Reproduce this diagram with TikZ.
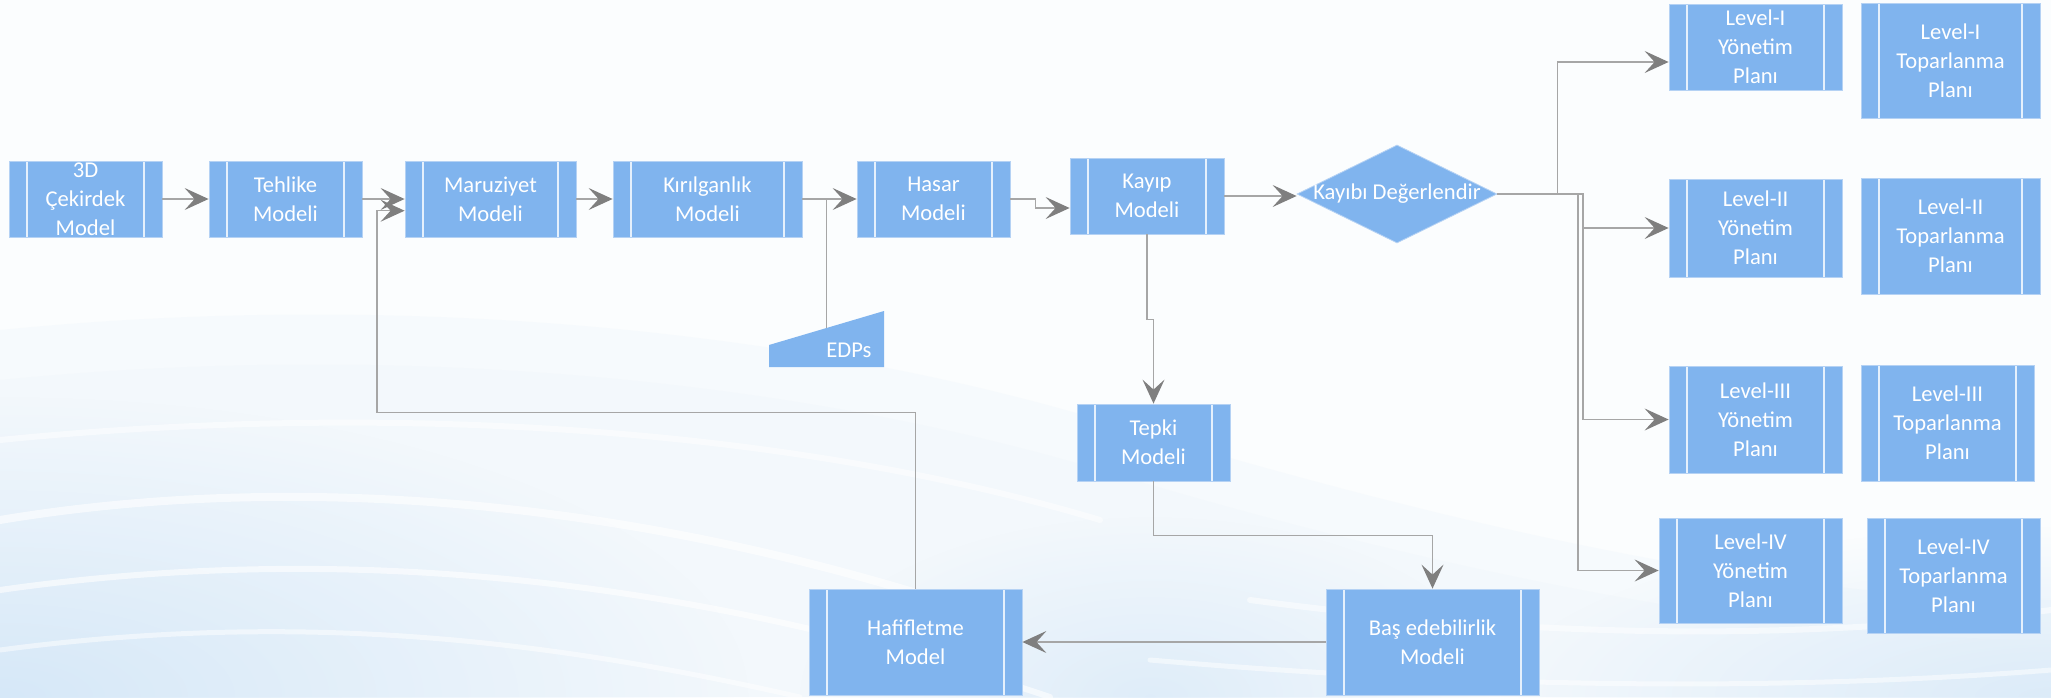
\documentclass[tikz,border=0pt]{standalone}
\usepackage{fontspec}
\setmainfont{Carlito}
\usetikzlibrary{arrows.meta,shapes.geometric,calc,fadings}
\definecolor{boxblue}{HTML}{80B4EE}
\definecolor{boxedge}{HTML}{B5D2F4}
\definecolor{connline}{HTML}{A6A6A6}
\definecolor{arrowgray}{HTML}{7F7F7F}
\definecolor{bgbase}{HTML}{FBFDFE}
\definecolor{bgA}{HTML}{EEF5FC}
\definecolor{bgB}{HTML}{D6E8F8}
\tikzfading[name=softblob, inner color=transparent!0, outer color=transparent!100]
\begin{document}
\begin{tikzpicture}[x=0.5pt,y=-0.5pt,
  font=\fontsize{11.3}{14.5}\selectfont,
  proc/.style 2 args={rectangle, fill=boxblue, draw=boxedge, line width=0.4pt,
    minimum width=#1, minimum height=#2, inner sep=0pt, text=white, align=center,
    path picture={\draw[white!80!boxblue, line width=0.7pt]
      ([xshift=9pt]path picture bounding box.north west) -- ([xshift=9pt]path picture bounding box.south west)
      ([xshift=-9pt]path picture bounding box.north east) -- ([xshift=-9pt]path picture bounding box.south east);}},
  conn/.style={draw=connline, line width=0.65pt},
  arr/.style={conn, -{Stealth[length=12pt,width=11pt,inset=5pt,color=arrowgray]}},
  txt/.style={text=white, align=center},
  streak/.style={white, line cap=round}
]
\useasboundingbox (0,0) rectangle (2051,697);
% background
\begin{scope}
\clip (0,0) rectangle (2051,697);
\fill[bgbase] (0,0) rectangle (2051,697);
\fill[bgA, opacity=0.35] (0,330) .. controls (400,290) and (800,330) .. (1100,420) .. controls (1400,510) and (1750,600) .. (2051,600) -- (2051,697) -- (0,697) -- cycle;
\fill[bgA, opacity=0.35] (0,380) .. controls (400,340) and (800,380) .. (1100,470) .. controls (1400,560) and (1750,640) .. (2051,640) -- (2051,697) -- (0,697) -- cycle;
\fill[bgB, path fading=softblob] (0,697) ellipse [x radius=750, y radius=300];
\fill[bgB, path fading=softblob, opacity=0.8] (2051,697) ellipse [x radius=550, y radius=170];
\fill[bgB, path fading=softblob, opacity=0.7] (1150,697) ellipse [x radius=350, y radius=180];
\draw[streak, line width=4pt, opacity=0.6] (0,520) .. controls (300,470) and (650,500) .. (1000,620);
\draw[streak, line width=3pt, opacity=0.6] (0,590) .. controls (350,540) and (700,580) .. (1050,697);
\draw[streak, line width=2.5pt, opacity=0.5] (0,650) .. controls (300,610) and (550,640) .. (800,697);
\draw[streak, line width=3pt, opacity=0.5] (0,440) .. controls (400,400) and (800,430) .. (1100,520);
\draw[streak, line width=3pt, opacity=0.5] (1250,600) .. controls (1550,640) and (1800,640) .. (2051,610);
\draw[streak, line width=2.5pt, opacity=0.5] (1150,660) .. controls (1500,690) and (1800,690) .. (2051,670);
\end{scope}

% main chain
\node[proc={76.5pt}{38pt}, label={[txt]center:3D\\Çekirdek\\Model}] (c3d) at (85.5,199) {};
\node[proc={76.5pt}{38pt}] (teh) at (285.5,199) {Tehlike\\Modeli};
\node[proc={85.5pt}{38pt}] (mar) at (490.5,199) {Maruziyet\\Modeli};
\node[proc={94.5pt}{38pt}] (kir) at (707.5,199) {Kırılganlık\\Modeli};
\node[proc={76.5pt}{38pt}] (has) at (933.5,199) {Hasar\\Modeli};
\node[proc={77pt}{38pt}] (kay) at (1147,196) {Kayıp\\Modeli};
\node[diamond, fill=boxblue, draw=boxedge, line width=0.4pt, minimum width=100pt, minimum height=49pt, inner sep=0pt,
  label={[txt]center:Kayıbı Değerlendir}] (dia) at (1397,194) {};

% EDPs
\fill[boxblue] (769,345) -- (884,311) -- (884,367) -- (769,367) -- cycle;
\node[txt] (edps) at (849,350) {EDPs};
\coordinate (edptop) at (826.5,328);
\coordinate (edpj) at (826.5,199);

% lower
\node[proc={76.5pt}{38.5pt}] (tep) at (1153.5,442.5) {Tepki\\Modeli};
\node[proc={106.5pt}{53pt}] (haf) at (915.5,642) {Hafifletme\\Model};
\node[proc={106.5pt}{53pt}] (bas) at (1432.5,642) {Baş edebilirlik\\Modeli};

% levels
\node[proc={86.5pt}{43pt}] (l1y) at (1755.5,47) {Level-I\\Yönetim\\Planı};
\node[proc={89.5pt}{57.5pt}] (l1t) at (1950.5,60.5) {Level-I\\Toparlanma\\Planı};
\node[proc={86.5pt}{49pt}] (l2y) at (1755.5,228) {Level-II\\Yönetim\\Planı};
\node[proc={89.5pt}{58pt}] (l2t) at (1950.5,236) {Level-II\\Toparlanma\\Planı};
\node[proc={86.5pt}{53.5pt}] (l3y) at (1755.5,419.5) {Level-III\\Yönetim\\Planı};
\node[proc={86.5pt}{58pt}] (l3t) at (1947.5,423) {Level-III\\Toparlanma\\Planı};
\node[proc={91.5pt}{52.5pt}] (l4y) at (1750.5,570.5) {Level-IV\\Yönetim\\Planı};
\node[proc={86.5pt}{57.5pt}] (l4t) at (1953.5,575.5) {Level-IV\\Toparlanma\\Planı};

% connectors
\draw[arr] (c3d.east) -- (teh.west);
\draw[arr] (teh.east) -- (mar.west);
\draw[arr] (mar.east) -- (kir.west);
\draw[arr] (kir.east) -- (has.west);
\draw[conn] (edptop) -- (edpj);
\draw[arr] (has.east) -- ++(25,0) |- ([yshift=-6pt]kay.west);
\draw[arr] (kay.east) -- (kay.east -| dia.west);
\draw[arr] (dia.east) -- ++(60,0) |- ([yshift=-7.5pt]l1y.west);
\draw[arr] (dia.east) -- ++(85.6,0) |- (l2y.west);
\draw[arr] (dia.east) -- ++(85.6,0) |- (l3y.west);
\draw[arr] (dia.east) -- ++(80.6,0) |- (l4y.west);
\draw[arr] (kay.south) -- ++(0,85) -| (tep.north);
\draw[arr] (tep.south) -- ++(0,54) -| (bas.north);
\draw[arr] (bas.west) -- (haf.east);
\draw[arr] (haf.north) |- ++(-538.5,-176) |- ([yshift=-5.85pt]mar.west);
\end{tikzpicture}
\end{document}
